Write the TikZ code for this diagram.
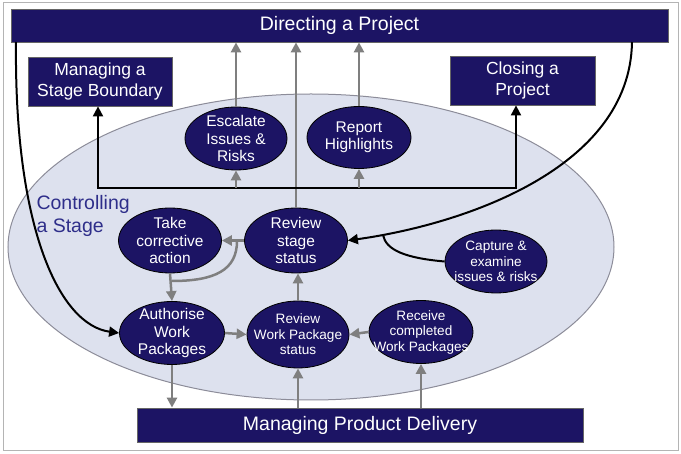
\documentclass[tikz,border=0pt]{standalone}
\usepackage{fontspec}
\setmainfont{Liberation Sans}
\usetikzlibrary{arrows.meta,calc,shapes.geometric}
\definecolor{navy}{HTML}{1C1464}
\definecolor{csfill}{HTML}{DDE1EE}
\definecolor{csborder}{HTML}{8C8C99}
\definecolor{garr}{HTML}{7F7F7F}
\definecolor{cstext}{HTML}{2E2E8A}
\definecolor{frame}{HTML}{B4B4B4}
\tikzset{
  bar/.style={rectangle,fill=navy,draw=black!60,line width=0.8pt,text=white,inner sep=0pt,align=center},
  proc/.style={ellipse,fill=navy,draw=black,line width=0.8pt,text=white,inner sep=-24pt,outer sep=0.4pt,align=center},
  bigell/.style={ellipse,fill=csfill,draw=csborder,line width=1pt,inner sep=0pt},
  garrow/.style={draw=garr,line width=2.5pt,-{Triangle[length=10pt,width=10pt]}},
  gline/.style={draw=garr,line width=2.5pt},
  karrow/.style={draw=black,line width=2pt,-{Triangle[length=10pt,width=10pt]}},
  kline/.style={draw=black,line width=2pt},
  fA/.style={font=\fontsize{15.5}{17.5}\selectfont},
  fB/.style={font=\fontsize{13.6}{15.5}\selectfont},
}
\begin{document}
\begin{tikzpicture}[x=1pt,y=-1pt]
\useasboundingbox (0,0) rectangle (681,454);
\draw[frame,line width=1pt] (3,3) rectangle (678,451);
% big ellipse
\node[bigell,minimum width=606pt,minimum height=306pt] (cs) at (311,247) {};
\node[anchor=west,align=left,text=cstext,font=\fontsize{19.5}{22.5}\selectfont] (cst) at (33,216) {Controlling\\a Stage};
% boxes
\node[bar,minimum width=657pt,minimum height=33pt,font=\fontsize{19.5}{22}\selectfont] (dp) at (339.5,25.5) {Directing a Project};
\node[bar,minimum width=144pt,minimum height=49pt,font=\fontsize{17.5}{21}\selectfont] (msb) at (100,81.5) {Managing a\\Stage Boundary};
\node[bar,minimum width=145pt,minimum height=49pt,font=\fontsize{17.5}{21}\selectfont] (cp) at (522.5,80.5) {Closing a\\Project};
\node[bar,minimum width=446pt,minimum height=34pt,font=\fontsize{19.5}{22}\selectfont] (mpd) at (360,425) {Managing Product Delivery};
% process ellipses
\node[proc,fA,minimum width=102pt,minimum height=63pt] (esc) at (236,138.5) {Escalate\\Issues \&\\Risks};
\node[proc,fA,minimum width=104pt,minimum height=62pt] (rep) at (359,137.5) {Report\\Highlights};
\node[proc,fA,minimum width=103pt,minimum height=65pt] (tca) at (170,240.5) {Take\\corrective\\action};
\node[proc,fA,minimum width=103pt,minimum height=65pt] (rss) at (296,240.5) {Review\\stage\\status};
\node[proc,fB,minimum width=102pt,minimum height=63pt] (cap) at (496,261.5) {Capture \&\\examine\\issues \& risks};
\node[proc,fA,minimum width=105pt,minimum height=63pt] (awp) at (172,333) {Authorise\\Work\\Packages};
\node[proc,fB,minimum width=102pt,minimum height=67pt] (rwp) at (298,334.5) {Review\\Work Package\\status};
\node[proc,fB,minimum width=104pt,minimum height=63pt] (rcv) at (421,332) {Receive\\completed\\Work Packages};
% coordinates
\coordinate (bl) at (98,188);
\coordinate (br) at (516,188);
\coordinate (dl) at (16,42);
\coordinate (dr) at (632,42);
\coordinate (bj) at (237,241);
\coordinate (bm) at (172,281);
\coordinate (kj) at (383,235);
% gray arrows up to Directing
\draw[garrow] (esc.north) -- (esc.north |- dp.south);
\draw[garrow] (rss.north) -- (rss.north |- dp.south);
\draw[garrow] (rep.north) -- (rep.north |- dp.south);
% black bus
\draw[kline,{Triangle[length=10pt,width=10pt]}-{Triangle[length=10pt,width=10pt]}] (bl |- msb.south) -- (bl) -- (br) -- (br |- cp.south);
\draw[garrow] (esc.south |- bl) -- (esc.south);
\draw[garrow] (rep.south |- bl) -- (rep.south);
% inner gray arrows
\draw[garrow] (rss.west) -- (tca.east);
\draw[gline] (bj) .. controls (237,270) and (215,281) .. (bm);
\draw[garrow] (tca.south) -- (awp.north);
\draw[garrow] (awp.east) -- (rwp.west);
\draw[garrow] (rcv.west) -- (rwp.east);
\draw[garrow] (rwp.north) -- (rwp.north |- rss.south);
\draw[garrow] (awp.south) -- (awp.south |- mpd.north);
\draw[garrow] (rwp.south |- mpd.north) -- (rwp.south);
\draw[garrow] (rcv.south |- mpd.north) -- (rcv.south);
% black curves
\draw[karrow] (dl) .. controls (14,230) and (60,325) .. (awp.west);
\draw[karrow] (dr) .. controls (630,170) and (460,225) .. (rss.east);
\draw[kline] (cap.west) .. controls (405,258) and (386,250) .. (kj);
\end{tikzpicture}
\end{document}
